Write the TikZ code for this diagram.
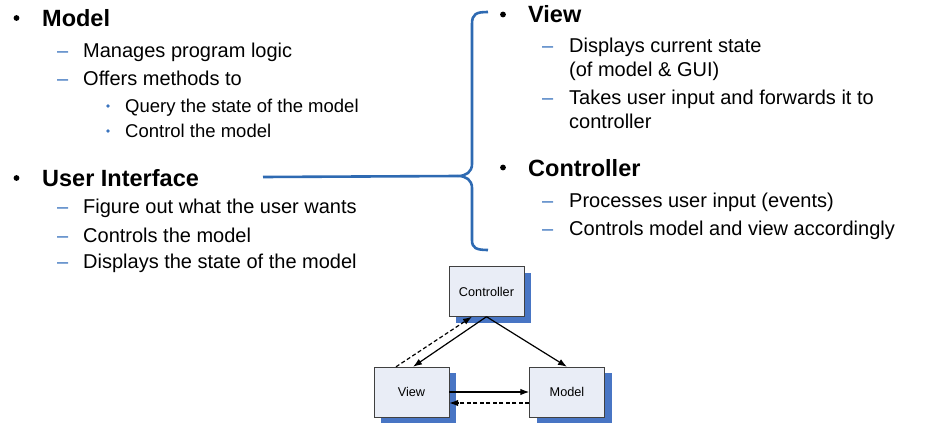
\documentclass[tikz,border=0pt]{standalone}
\usepackage{fontspec}
\setmainfont{Liberation Sans}
\usepackage{tikz}
\usetikzlibrary{arrows.meta,shadows}

\definecolor{bracec}{RGB}{46,106,178}
\definecolor{markc}{RGB}{58,116,190}
\definecolor{boxfill}{RGB}{233,237,246}
\definecolor{shadowc}{RGB}{72,117,196}

\begin{document}
\begin{tikzpicture}[x=1pt, y=-1pt,
    head/.style={anchor=base west, inner sep=0pt, font=\fontsize{23.5}{28}\selectfont\bfseries},
    item/.style={anchor=base west, inner sep=0pt, font=\fontsize{20}{24}\selectfont},
    subitem/.style={anchor=base west, inner sep=0pt, font=\fontsize{18.5}{22}\selectfont},
    bigdot/.style={circle, fill=black, inner sep=0pt, minimum size=5.8pt},
    dashmark/.style={anchor=base west, inner sep=0pt, text=markc, font=\fontsize{20}{24}\selectfont},
    smalldot/.style={circle, fill=markc, inner sep=0pt, minimum size=3.6pt},
    part/.style={draw=black!75, fill=boxfill, minimum width=75pt, minimum height=50pt,
      inner sep=0pt, font=\fontsize{12.7}{15}\selectfont,
      drop shadow={shadow xshift=7pt, shadow yshift=-6pt, fill=shadowc, opacity=1}},
    flow/.style={line width=1.2pt, -{Latex[length=9pt,width=6.5pt]}},
    back/.style={dash pattern=on 4pt off 2.5pt}]
        \useasboundingbox (0,0) rectangle (935,431);

        % left column
        \node[bigdot] (bM) at (16.5, 18) {};
        \node[head] (M) at (42, 27) {Model};
        \node[dashmark] (dM1) at (57, 57) {–};
        \node[item] (M1) at (83, 57) {Manages program logic};
        \node[dashmark] (dM2) at (57, 85) {–};
        \node[item] (M2) at (83, 85) {Offers methods to};
        \node[smalldot] (dM21) at (108, 106) {};
        \node[subitem] (M21) at (125, 112) {Query the state of the model};
        \node[smalldot] (dM22) at (108, 131) {};
        \node[subitem] (M22) at (125, 137) {Control the model};

        \node[bigdot] (bUI) at (16.5, 178) {};
        \node[head] (UI) at (42, 186) {User Interface};
        \node[dashmark] (dUI1) at (57, 213) {–};
        \node[item] (UI1) at (83, 213) {Figure out what the user wants};
        \node[dashmark] (dUI2) at (57, 242) {–};
        \node[item] (UI2) at (83, 242) {Controls the model};
        \node[dashmark] (dUI3) at (57, 268) {–};
        \node[item] (UI3) at (83, 268) {Displays the state of the model};

        % right column
        \node[bigdot] (bV) at (503, 14.5) {};
        \node[head] (V) at (528, 22) {View};
        \node[dashmark] (dV1) at (542, 52) {–};
        \node[item] (V1) at (569, 52) {Displays current state};
        \node[item] (V1b) at (569, 76) {(of model \& GUI)};
        \node[dashmark] (dV2) at (542, 104) {–};
        \node[item] (V2) at (569, 104) {Takes user input and forwards it to};
        \node[item] (V2b) at (569, 128) {controller};

        \node[bigdot] (bC) at (503, 167.5) {};
        \node[head] (C) at (528, 176) {Controller};
        \node[dashmark] (dC1) at (542, 207) {–};
        \node[item] (C1) at (569, 207) {Processes user input (events)};
        \node[dashmark] (dC2) at (542, 235) {–};
        \node[item] (C2) at (569, 235) {Controls model and view accordingly};

        % brace
        \coordinate (tip) at (458, 176);
        \coordinate (uiend) at (263, 177);
        \draw[bracec, line width=2.6pt] (uiend) -- (tip);
        \draw[bracec, line width=2.6pt, line cap=butt]
          (488, 12) .. controls (476, 12) and (472, 14) .. (472, 24) -- (472, 164)
          .. controls (472, 172) and (466, 176) .. (tip)
          .. controls (466, 176) and (472, 180) .. (472, 188) -- (472, 240)
          .. controls (472, 248) and (476, 250) .. (488, 250);

        % diagram
        \node[part] (ctrl) at (486.5, 291.5) {Controller};
        \node[part] (view) at (411.5, 392) {View};
        \node[part] (model) at (567, 392) {Model};

        \draw[flow] (ctrl.south) to ([xshift=1.5pt]view.north);
        \draw[flow] (ctrl.south) to (model.north);
        \draw[flow, back] ([xshift=-15.5pt]view.north) to ([xshift=-14.5pt]ctrl.south);
        \draw[flow] (view.east) to (model.west);
        \draw[flow, back] ([yshift=-11pt]model.west) to ([yshift=-11pt]view.east);

      \end{tikzpicture}
\end{document}
